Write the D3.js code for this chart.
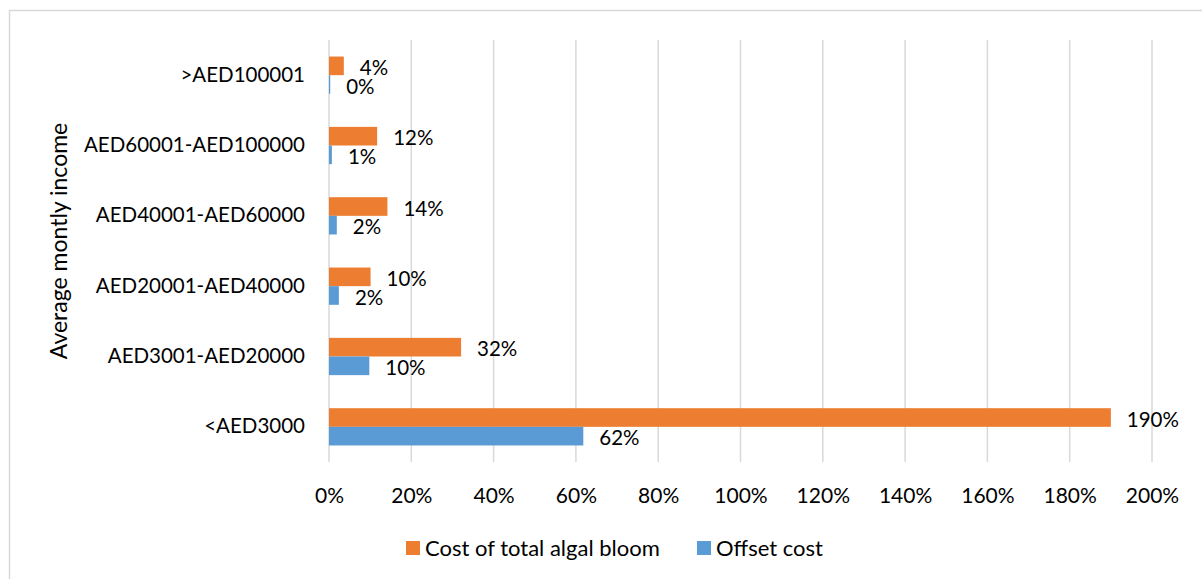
<!DOCTYPE html>
<html>
<head>
<meta charset="utf-8">
<script src="https://cdn.jsdelivr.net/npm/d3@7"></script>
<style>
  body { margin: 0; background: #fff; }
  text { font-family: Lato, "Open Sans", sans-serif; fill: #000; }
</style>
</head>
<body>
<div id="base"></div>
<script>
// income groups, top to bottom as drawn
var categories = [">AED100001", "AED60001-AED100000", "AED40001-AED60000",
                  "AED20001-AED40000", "AED3001-AED20000", "<AED3000"]
// shares of income
var algal = [0.036, 0.117, 0.142, 0.101, 0.321, 1.90]
var offset = [0.003, 0.007, 0.019, 0.024, 0.098, 0.618]
var ticks = [0, 0.2, 0.4, 0.6, 0.8, 1.0, 1.2, 1.4, 1.6, 1.8, 2.0]
var seriesNames = ["Cost of total algal bloom", "Offset cost"]
var colors = ["#ED7D31", "#5B9BD5"]

var width = 1202
var height = 579
var margin = {top: 40, left: 329, right: 50, bottom: 117}

var svg = d3.select("#base")
  .append("svg")
  .attr("width", width)
  .attr("height", height)

// chart frame
svg.append("rect")
  .attr("x", 9.5).attr("y", 10.5)
  .attr("width", 1400).attr("height", 800)
  .attr("fill", "none")
  .attr("stroke", "#d9d9d9")
  .attr("stroke-width", 1.5)

var x = d3.scaleLinear()
  .domain([0, 2])
  .range([margin.left, 1152])

var y = d3.scaleBand()
  .domain(categories)
  .range([margin.top, height - margin.bottom])
  .paddingInner(0.47)
  .paddingOuter(0.235)

var inner = d3.scaleBand()
  .domain([0, 1])
  .range([0, y.bandwidth()])

var rows = categories.map(function(c, i) { return {cat: c, vals: [algal[i], offset[i]]} })

// gridlines
svg.append("g")
  .selectAll("line")
  .data(ticks)
  .join("line")
    .attr("x1", d => x(d)).attr("x2", d => x(d))
    .attr("y1", margin.top).attr("y2", height - margin.bottom)
    .attr("stroke", "#d9d9d9")
    .attr("stroke-width", 1.5)

// tick labels
var xAxis = svg.append("g")
  .attr("transform", `translate(0,${height - margin.bottom})`)
  .call(d3.axisBottom(x).tickValues(ticks).tickFormat(d3.format(".0%")).tickSize(0).tickPadding(26))
xAxis.select(".domain").remove()
xAxis.selectAll("text")
  .style("font-family", "Lato, sans-serif")
  .style("font-size", "21px")

// category labels
var yAxis = svg.append("g")
  .attr("transform", `translate(${margin.left},0)`)
  .call(d3.axisLeft(y).tickSize(0).tickPadding(24))
yAxis.select(".domain").remove()
yAxis.selectAll("text")
  .style("font-family", "Lato, sans-serif")
  .style("font-size", "20.5px")

var groups = svg.append("g")
  .selectAll("g")
  .data(rows)
  .join("g")
    .attr("transform", d => `translate(0,${y(d.cat)})`)

groups.selectAll("rect")
  .data(d => d.vals.map(function(v, j) { return {v: v, j: j} }))
  .join("rect")
    .attr("x", x(0))
    .attr("y", d => inner(d.j))
    .attr("width", d => Math.max(x(d.v) - x(0), 1))
    .attr("height", inner.bandwidth())
    .attr("fill", d => colors[d.j])

groups.selectAll("text")
  .data(d => d.vals.map(function(v, j) { return {v: v, j: j} }))
  .join("text")
    .attr("x", d => x(d.v) + 16)
    .attr("y", d => inner(d.j) + inner.bandwidth() / 2 + 2)
    .attr("dy", "0.35em")
    .style("font-size", "20.5px")
    .text(d => d3.format(".0%")(d.v))

// axis title
svg.append("text")
  .attr("transform", "translate(67,241) rotate(-90)")
  .attr("text-anchor", "middle")
  .style("font-size", "23px")
  .text("Average montly income")

// legend
var legend = svg.append("g")
  .selectAll("g")
  .data(seriesNames)
  .join("g")
    .attr("transform", (d, i) => `translate(${[406, 697][i]},541)`)

legend.append("rect")
  .attr("width", 14).attr("height", 14)
  .attr("fill", (d, i) => colors[i])

legend.append("text")
  .attr("x", 19).attr("y", 7)
  .attr("dy", "0.35em")
  .style("font-size", "22px")
  .text(d => d)
</script>
</body>
</html>
